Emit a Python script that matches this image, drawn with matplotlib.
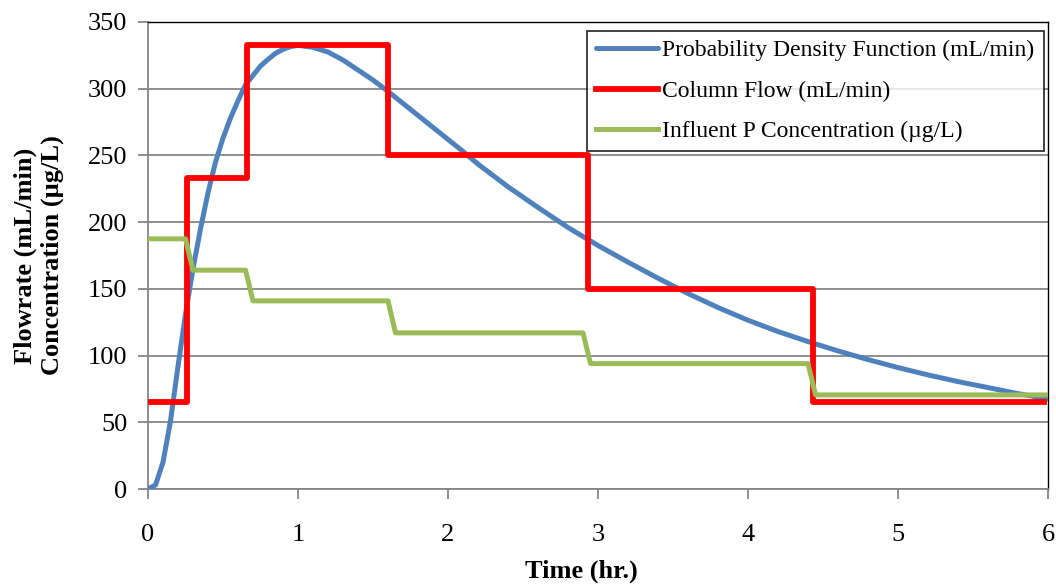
import matplotlib
matplotlib.use("Agg")
import matplotlib.pyplot as plt

# PDF curve (mL/min)
pdf_time = [0, 0.05, 0.1, 0.15, 0.2, 0.25, 0.3, 0.35, 0.4, 0.45, 0.5, 0.55, 0.6, 0.65, 0.7,
            0.75, 0.8, 0.85, 0.9, 0.95, 1.0, 1.1, 1.2, 1.3, 1.4, 1.5, 1.6, 1.7, 1.8, 1.9,
            2.0, 2.1, 2.2, 2.4, 2.6, 2.8, 3.0, 3.2, 3.4, 3.6, 3.8, 4.0, 4.2, 4.4, 4.6,
            4.8, 5.0, 5.2, 5.4, 5.6, 5.8, 6.0]
pdf_flow = [0, 3, 20, 51, 92, 131, 165, 195, 222, 245, 263, 278, 291, 303, 310,
            317, 322, 326.5, 329.5, 331.5, 332.5, 331, 327.5, 321.5, 314, 306.5, 298, 289, 280, 271,
            262, 253, 243.5, 226.5, 211, 196, 182.5, 170, 158, 146.5, 136, 126.5, 118, 110.5, 103.5,
            97, 91, 85.5, 80.5, 76, 71.5, 67.5]

# column flow steps (mL/min)
col_time = [0, 0.26, 0.66, 1.6, 2.93, 4.43, 5.97]
col_flow = [65, 233, 333, 250, 150, 65, 65]

# influent P concentration (ug/L)
conc_time = [0, 0.25, 0.3, 0.65, 0.7, 1.6, 1.65, 2.9, 2.95, 4.4, 4.45, 6.0]
conc_val = [187.5, 187.5, 164, 164, 141, 141, 117, 117, 94, 94, 70.5, 70.5]

plt.rcParams['font.family'] = ['Liberation Serif', 'DejaVu Serif']

fig = plt.figure(figsize=(10.56, 5.87), dpi=100)
ax = fig.add_axes([148 / 1056, 1 - 489 / 587, 900 / 1056, 467 / 587])

ax.plot(pdf_time, pdf_flow, color='#4F81BD', lw=3.6, label='Probability Density Function (mL/min)',
        solid_capstyle='round', solid_joinstyle='round', zorder=3)
ax.plot(col_time, col_flow, color='#FF0000', lw=4.2, drawstyle='steps-post',
        label='Column Flow (mL/min)', zorder=4)
ax.plot(conc_time, conc_val, color='#9BBB59', lw=3.6, label='Influent P Concentration (µg/L)', zorder=5)

ax.set_xlim(0, 6)
ax.set_ylim(0, 350)
ax.set_xticks(range(0, 7))
ax.set_yticks(range(0, 351, 50))
ax.yaxis.grid(True, color='#868686', lw=1.3)
ax.set_axisbelow(True)

for s in ['left', 'bottom']:
    ax.spines[s].set_color('#868686')
    ax.spines[s].set_linewidth(1.3)
for s in ['top', 'right']:
    ax.spines[s].set_color('black')
    ax.spines[s].set_linewidth(1.0)

ax.tick_params(axis='x', direction='out', length=7, width=1.3, color='#868686', pad=18, labelsize=19)
ax.tick_params(axis='y', direction='out', length=7, width=1.3, color='#868686', pad=8, labelsize=19)

ax.set_xlabel('Time (hr.)', fontsize=19, fontweight='bold')
ax.xaxis.set_label_coords(0.482, -0.177, transform=ax.transAxes)
ax.xaxis.label.set_verticalalignment('center')
ax.set_ylabel('Flowrate (mL/min)\nConcentration (µg/L)', fontsize=19, fontweight='bold',
              labelpad=17, linespacing=1.2)

leg = ax.legend(loc='upper right', bbox_to_anchor=(0.995, 0.981), borderaxespad=0,
                fontsize=17, frameon=True, fancybox=False, edgecolor='black',
                handlelength=2.6, handletextpad=0.2, labelspacing=0.8, borderpad=0.38)
leg.get_frame().set_linewidth(1.3)

fig.savefig("out.png", dpi=100)
